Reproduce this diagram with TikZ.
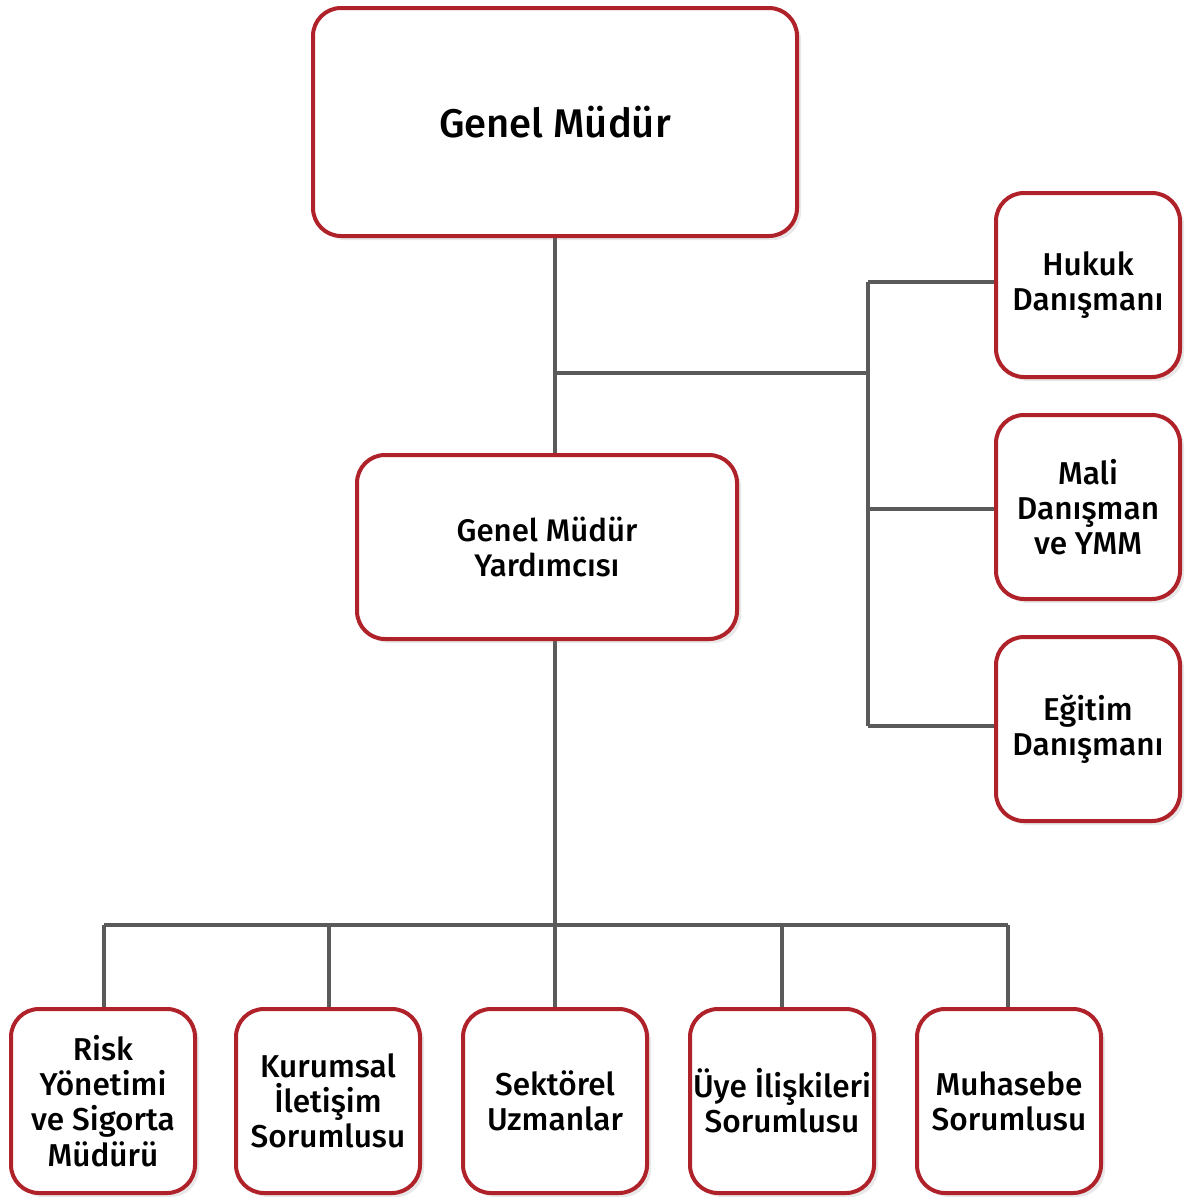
\documentclass[tikz,border=0pt]{standalone}
\usepackage{fontspec}
\setmainfont{Fira Sans}[UprightFont=* Medium]
\usetikzlibrary{shadows}
\definecolor{boxred}{HTML}{B0222A}
\definecolor{linegray}{HTML}{5A5A5A}
\tikzset{
  unit/.style={draw=boxred, line width=2pt, fill=white, rounded corners=14pt,
    align=center, inner sep=0pt, font=\fontsize{15.8}{17.6}\selectfont,
    drop shadow={opacity=0.18, shadow xshift=2pt, shadow yshift=-2pt}},
  link/.style={draw=linegray, line width=2pt}
}

\begin{document}
\begin{tikzpicture}[x=0.5pt, y=-0.5pt]
  \useasboundingbox (0,0) rectangle (1184,1199);
  \coordinate (adv) at (868,373);
  \coordinate (bus) at (555,925);
  \draw[link] (555,236) -- (555,455);
  \draw[link] (555,373) -- (adv);
  \draw[link] (868,282) -- (868,726);
  \draw[link] (555,640) -- (bus);
  \draw[link] (104,925) -- (1008,925);
  \foreach \x in {104,329,555,782,1008}
    \draw[link] (\x,925) -- (\x,1010);
  \foreach \y in {282,509,726}
    \draw[link] (868,\y) -- (996,\y);

  \node[unit, minimum width=242pt, minimum height=114pt,
    font=\fontsize{20}{22}\selectfont] (gm) at (555,122) {Genel Müdür};
  \node[unit, minimum width=190pt, minimum height=92pt,
    font=\fontsize{15.6}{17.6}\selectfont] (gmy) at (547,547) {Genel Müdür\\Yardımcısı};

  \node[unit, minimum width=92pt, minimum height=92pt] (hukuk) at (1088,285) {Hukuk\\Danışmanı};
  \node[unit, minimum width=92pt, minimum height=92pt] (mali) at (1088,507) {Mali\\Danışman\\ve YMM};
  \node[unit, minimum width=92pt, minimum height=92pt] (egitim) at (1088,729) {Eğitim\\Danışmanı};

  \node[unit, minimum width=92pt, minimum height=92pt] (risk) at (103,1101) {Risk\\Yönetimi\\ve Sigorta\\Müdürü};
  \node[unit, minimum width=92pt, minimum height=92pt] (kurumsal) at (328,1101) {Kurumsal\\İletişim\\Sorumlusu};
  \node[unit, minimum width=92pt, minimum height=92pt] (sektorel) at (555,1101) {Sektörel\\Uzmanlar};
  \node[unit, minimum width=92pt, minimum height=92pt] (uye) at (782,1101) {Üye İlişkileri\\Sorumlusu};
  \node[unit, minimum width=92pt, minimum height=92pt] (muhasebe) at (1009,1101) {Muhasebe\\Sorumlusu};
\end{tikzpicture}
\end{document}
